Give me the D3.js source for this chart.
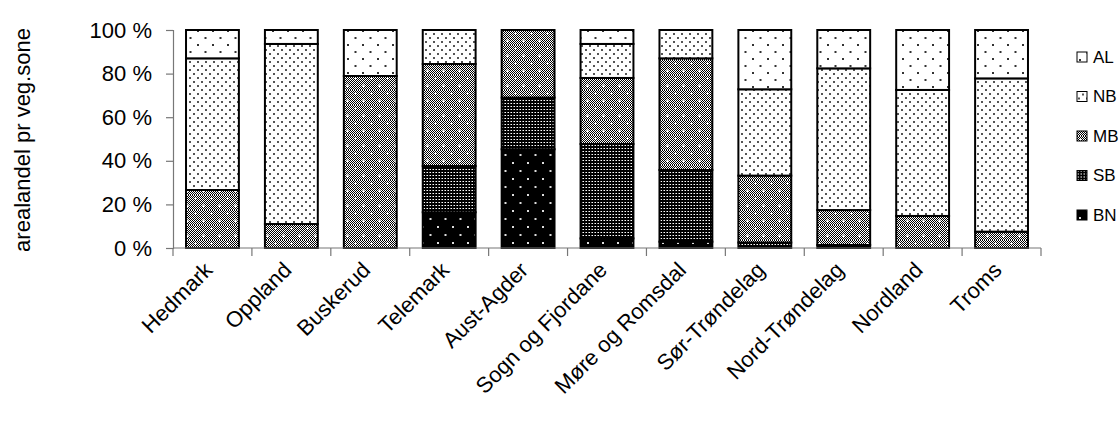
<!DOCTYPE html>
<html>
<head>
<meta charset="utf-8">
<script src="https://cdn.jsdelivr.net/npm/d3@7"></script>
<style>
  html, body { margin: 0; padding: 0; background: #fff; }
  svg { display: block; font-family: "Liberation Sans", Arial, sans-serif; }
</style>
</head>
<body>
<svg id="chart" width="1120" height="426"></svg>
<script>
// Counties along the x axis
const categories = ["Hedmark", "Oppland", "Buskerud", "Telemark", "Aust-Agder",
  "Sogn og Fjordane", "Møre og Romsdal", "Sør-Trøndelag", "Nord-Trøndelag",
  "Nordland", "Troms"];

// Share of area per vegetation zone (%), stacked bottom to top
const BN = [0, 0, 0, 16.4, 45.3, 4.4, 2.9, 0, 1.4, 0, 0];
const SB = [0, 0, 0, 21.2, 23.7, 43.3, 32.9, 2.5, 0, 0, 0];
const MB = [26.6, 11, 78.9, 46.8, 31, 30.3, 51.2, 30.7, 16, 14.7, 7.5];
const NB = [60.4, 82.6, 0, 15.6, 0, 15.6, 13, 39.6, 65, 57.8, 70.3];
const AL = [13, 6.4, 21.1, 0, 0, 6.4, 0, 27.2, 17.6, 27.5, 22.2];

const seriesNames = ["BN", "SB", "MB", "NB", "AL"];
const legendOrder = ["AL", "NB", "MB", "SB", "BN"];
const yTicks = [0, 20, 40, 60, 80, 100];
const yTitle = "arealandel pr veg.sone";

const table = categories.map((c, i) => ({
  county: c, BN: BN[i], SB: SB[i], MB: MB[i], NB: NB[i], AL: AL[i]
}));

const svg = d3.select("#chart");
const defs = svg.append("defs");

// --- fill patterns -------------------------------------------------------
// fine checker used as the base of the MB fill
const checker = defs.append("pattern").attr("id", "checker")
  .attr("patternUnits", "userSpaceOnUse").attr("width", 2).attr("height", 2);
checker.append("rect").attr("width", 2).attr("height", 2).attr("fill", "#fff");
checker.append("rect").attr("width", 1).attr("height", 1).attr("fill", "#000");
checker.append("rect").attr("x", 1).attr("y", 1).attr("width", 1).attr("height", 1).attr("fill", "#000");

function dotPattern(id, w, h, bg, dot, pts, r) {
  const p = defs.append("pattern").attr("id", id)
    .attr("patternUnits", "userSpaceOnUse").attr("width", w).attr("height", h);
  p.append("rect").attr("width", w).attr("height", h).attr("fill", bg);
  pts.forEach(([x, y]) => {
    p.append("rect").attr("x", x).attr("y", y).attr("width", r).attr("height", r).attr("fill", dot);
  });
  return p;
}

// AL: sparse dark dots on white
dotPattern("pat-AL", 15, 14, "#fff", "#333", [[2, 2], [9.5, 9]], 2);
// NB: dense grey dots on white
dotPattern("pat-NB", 8, 8, "#fff", "#555", [[1, 1], [5, 5]], 2);
// BN: sparse white dots on black
dotPattern("pat-BN", 15, 16, "#000", "#ddd", [[2, 2], [9.5, 10]], 2);

// MB: grey checker with white sparkles
const mb = defs.append("pattern").attr("id", "pat-MB")
  .attr("patternUnits", "userSpaceOnUse").attr("width", 16).attr("height", 15);
mb.append("rect").attr("width", 16).attr("height", 15).attr("fill", "url(#checker)");
[[3, 3], [11, 10.5]].forEach(([x, y]) => {
  mb.append("rect").attr("x", x - 1).attr("y", y).attr("width", 3).attr("height", 1).attr("fill", "#fff");
  mb.append("rect").attr("x", x).attr("y", y - 1).attr("width", 1).attr("height", 3).attr("fill", "#fff");
});

// SB: dark fine grid
const sb = defs.append("pattern").attr("id", "pat-SB")
  .attr("patternUnits", "userSpaceOnUse").attr("width", 3).attr("height", 3);
sb.append("rect").attr("width", 3).attr("height", 3).attr("fill", "#000");
sb.append("rect").attr("x", 1).attr("y", 1).attr("width", 1).attr("height", 1).attr("fill", "#fff");
sb.append("rect").attr("x", 0).attr("y", 1).attr("width", 1).attr("height", 1).attr("fill", "#888");

const fills = { AL: "url(#pat-AL)", NB: "url(#pat-NB)", MB: "url(#pat-MB)", SB: "url(#pat-SB)", BN: "url(#pat-BN)" };

// --- scales ---------------------------------------------------------------
const x = d3.scaleBand().domain(categories).range([173, 1041])
  .paddingInner(0.33).paddingOuter(0.165);
const y = d3.scaleLinear().domain([0, 100]).range([248, 30]);

// --- stacked bars ---------------------------------------------------------
const stack = d3.stack().keys(seriesNames)(table);
const layers = svg.append("g").selectAll("g").data(stack).join("g")
  .attr("fill", d => fills[d.key]);
layers.selectAll("rect")
  .data(d => d.filter(s => s[1] - s[0] > 0))
  .join("rect")
  .attr("x", d => x(d.data.county))
  .attr("width", x.bandwidth())
  .attr("y", d => y(d[1]))
  .attr("height", d => y(d[0]) - y(d[1]))
  .attr("stroke", "#000")
  .attr("stroke-width", 2);

// --- y axis ---------------------------------------------------------------
const yAxis = svg.append("g").attr("transform", "translate(173,0)")
  .call(d3.axisLeft(y).tickValues(yTicks).tickSize(7).tickPadding(14)
    .tickFormat(d => d + " %"));
yAxis.select(".domain").attr("stroke", "#777").attr("stroke-width", 1.2);
yAxis.selectAll(".tick line").attr("stroke", "#777").attr("stroke-width", 1.2);
yAxis.selectAll(".tick text").attr("font-size", 22).attr("fill", "#000")
  .attr("font-family", "'Liberation Sans', Arial, sans-serif");

// --- x axis: baseline with ticks between categories -----------------------
const xAxis = svg.append("g");
xAxis.append("line")
  .attr("x1", x.range()[0]).attr("x2", x.range()[1])
  .attr("y1", y(0)).attr("y2", y(0))
  .attr("stroke", "#777").attr("stroke-width", 1.2);
const bounds = categories.map(c => x(c) - x.step() * x.paddingInner() / 2)
  .concat([x.range()[1]]);
xAxis.selectAll("line.tick").data(bounds).join("line").attr("class", "tick")
  .attr("x1", d => d).attr("x2", d => d)
  .attr("y1", y(0)).attr("y2", y(0) + 8)
  .attr("stroke", "#777").attr("stroke-width", 1.2);

// slanted category labels, each ending under its own bar
xAxis.selectAll("text").data(categories).join("text")
  .attr("transform", d => `translate(${x(d) + x.bandwidth() / 2 - 4},${y(0) + 18}) rotate(-45)`)
  .attr("text-anchor", "end")
  .attr("dy", "0.35em")
  .attr("font-size", 22)
  .text(d => d);

// --- y title ---------------------------------------------------------------
svg.append("text")
  .attr("transform", "translate(22,140) rotate(-90)")
  .attr("text-anchor", "middle")
  .attr("dy", "0.35em")
  .attr("font-size", 22)
  .text(yTitle);

// --- legend ----------------------------------------------------------------
const legend = svg.append("g").selectAll("g").data(legendOrder).join("g")
  .attr("transform", (d, i) => `translate(1077,${57 + i * 39.5})`);
legend.append("rect")
  .attr("x", 0).attr("y", -5).attr("width", 10).attr("height", 10)
  .attr("fill", d => fills[d]).attr("stroke", "#000").attr("stroke-width", 1);
legend.append("text")
  .attr("x", 16).attr("dy", "0.35em")
  .attr("font-size", 17)
  .text(d => d);
</script>
</body>
</html>
